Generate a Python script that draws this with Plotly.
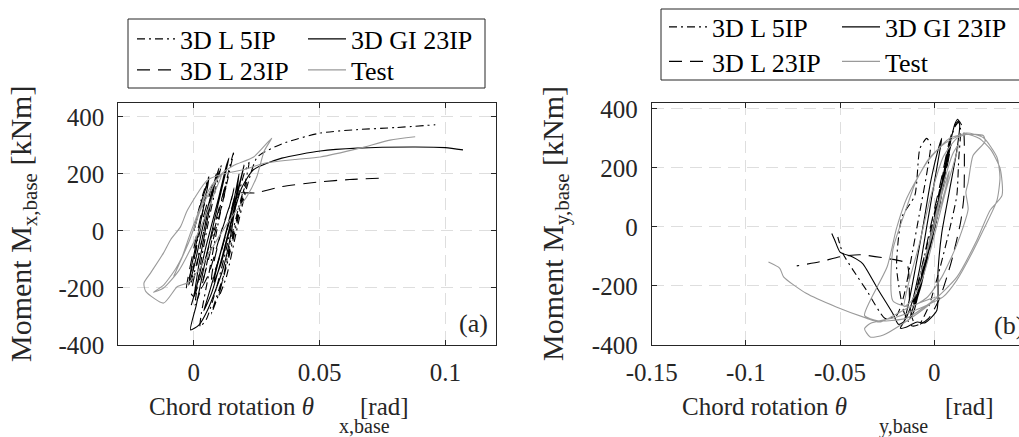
import plotly.graph_objects as go

# ---- panel (a): base moment about x vs chord rotation about x ----
a_l5ip = [(0, 0), (0.003, 110), (0.006, 190), (0.0045, 110), (0.002, 0), (0.0, -120), (-0.001, -180),
          (0.001, -120), (0.004, 0), (0.008, 150), (0.011, 230), (0.009, 160), (0.006, 40), (0.003, -100),
          (0.001, -220), (0.0005, -260), (0.003, -200), (0.007, -40), (0.012, 140), (0.015, 250),
          (0.016, 280), (0.014, 200), (0.010, 40), (0.006, -150), (0.003, -290), (0.0025, -336),
          (0.005, -310), (0.009, -200), (0.013, -60), (0.017, 100), (0.020, 200), (0.022, 240),
          (0.020, 150), (0.016, 0), (0.012, -150), (0.008, -260), (0.007, -290), (0.010, -220),
          (0.014, -90), (0.018, 60), (0.021, 170), (0.019, 120), (0.015, -20), (0.012, -150),
          (0.010, -230), (0.013, -160), (0.017, 0), (0.021, 150),
          (0.0253, 259), (0.035, 305), (0.0503, 343), (0.065, 355), (0.080, 362), (0.096, 372)]
a_gi23ip = [(0, 0), (0.003, 100), (0.006, 180), (0.0045, 110), (0.002, 0), (-0.001, -130), (-0.002, -190),
            (0.0, -130), (0.004, 30), (0.008, 160), (0.010, 220), (0.008, 150), (0.005, 20), (0.002, -120),
            (0.0, -230), (-0.001, -260), (0.001, -200), (0.005, -50), (0.010, 120), (0.013, 230),
            (0.014, 255), (0.012, 180), (0.008, 30), (0.004, -130), (0.001, -260), (-0.0013, -347),
            (0.002, -330), (0.0055, -277), (0.0115, -137), (0.015, 0), (0.017, 130), (0.018, 200),
            (0.016, 110), (0.012, -30), (0.008, -160), (0.005, -250), (0.004, -280), (0.007, -220),
            (0.011, -100), (0.015, 40), (0.019, 190), (0.020, 230), (0.018, 160), (0.014, 30),
            (0.010, -100), (0.008, -180), (0.011, -110), (0.015, 30),
            (0.019, 150), (0.0238, 215), (0.035, 255), (0.0503, 280), (0.065, 290), (0.087, 294),
            (0.100, 292), (0.107, 284)]
a_l23ip = [(0, 0), (0.003, 100), (0.0055, 170), (0.004, 100), (0.001, -20), (-0.002, -150), (-0.003, -200),
           (-0.001, -140), (0.003, 20), (0.007, 150), (0.009, 200), (0.007, 130), (0.004, 0), (0.001, -130),
           (-0.001, -220), (0.0, -230), (0.003, -150), (0.007, -20), (0.011, 110), (0.013, 170),
           (0.012, 120), (0.008, -20), (0.005, -130), (0.003, -200), (0.006, -150), (0.010, -30),
           (0.014, 80), (0.016, 150), (0.015, 110), (0.011, 0), (0.008, -110), (0.007, -170),
           (0.010, -100), (0.014, 30), (0.017, 130), (0.0245, 133), (0.035, 155), (0.0503, 172),
           (0.062, 180), (0.0748, 185)]
a_test = [(0, 0), (0.002, 60), (0.004, 120), (0.002, 60), (-0.002, -40), (-0.006, -120), (-0.008, -160),
          (-0.005, -100), (-0.001, 0), (0.004, 110), (0.008, 170), (0.011, 195), (0.009, 150), (0.005, 60),
          (0.0, -40), (-0.006, -140), (-0.012, -200), (-0.016, -215), (-0.012, -190), (-0.007, -130),
          (-0.002, -40), (0.003, 80), (0.0106, 196), (0.016, 230), (0.0238, 259), (0.031, 325),
          (0.028, 280), (0.025, 189), (0.021, 119), (0.016, 60), (0.010, -20), (0.004, -110),
          (-0.002, -180), (-0.0065, -195), (-0.012, -253), (-0.0191, -212), (-0.0198, -183),
          (-0.0172, -148), (-0.012, -77), (-0.0092, -31), (-0.0053, 14), (-0.0025, 73), (0.0054, 178),
          (0.012, 200), (0.020, 215), (0.028, 237), (0.040, 250), (0.0503, 259), (0.066, 290),
          (0.078, 318), (0.088, 330)]

# ---- panel (b): base moment about y vs chord rotation about y ----
b_l5ip = [(0, 0), (0.003, 100), (0.005, 170), (0.003, 90), (0.0, -10), (-0.005, -120), (-0.007, -170),
          (-0.004, -100), (0.0, 30), (0.005, 170), (0.008, 260), (0.006, 180), (0.001, 30), (-0.005, -130),
          (-0.010, -240), (-0.012, -270), (-0.009, -200), (-0.003, -40), (0.003, 130), (0.008, 280),
          (0.011, 340), (0.013, 355), (0.014, 330), (0.013, 230), (0.012, 107), (0.0083, -4),
          (0.003, -140), (-0.003, -270), (-0.008, -330), (-0.012, -335), (-0.016, -290), (-0.020, -135),
          (-0.0172, 33), (-0.0103, 107), (-0.0076, 266), (-0.004, 300), (-0.002, 280), (-0.004, 180),
          (-0.008, 40), (-0.012, -100), (-0.016, -230), (-0.020, -300), (-0.026, -310), (-0.036, -214),
          (-0.043, -147), (-0.0485, -90), (-0.0512, -34)]
b_gi23ip = [(0, 0), (0.003, 90), (0.005, 160), (0.003, 80), (0.0, -10), (-0.004, -110), (-0.006, -160),
            (-0.004, -100), (0.0, 20), (0.004, 140), (0.007, 230), (0.005, 160), (0.001, 30), (-0.004, -110),
            (-0.008, -210), (-0.010, -260), (-0.007, -200), (-0.002, -50), (0.003, 110), (0.007, 250),
            (0.009, 300), (0.007, 230), (0.002, 80), (-0.004, -100), (-0.010, -250), (-0.013, -310),
            (-0.011, -290), (-0.006, -160), (0.0, 20), (0.005, 180), (0.009, 300), (0.011, 350),
            (0.0125, 365), (0.0135, 345), (0.012, 260), (0.008, 120), (0.004, -20), (0.002, -150),
            (0.0014, -282), (-0.005, -325), (-0.009, -322), (-0.012, -330), (-0.015, -340), (-0.018, -343),
            (-0.016, -320), (-0.013, -240), (-0.010, -140), (-0.006, 0), (-0.002, 150), (0.002, 260),
            (0.004, 300), (0.003, 260), (0.0, 150), (-0.004, 0), (-0.008, -150), (-0.012, -260),
            (-0.016, -320), (-0.019, -330), (-0.022, -293), (-0.030, -210), (-0.038, -124),
            (-0.0433, -102), (-0.050, -85), (-0.0528, -45), (-0.0544, -22)]
b_l23ip = [(0, 0), (0.003, 100), (0.005, 160), (0.003, 80), (-0.001, -30), (-0.005, -130), (-0.007, -170),
           (-0.004, -90), (0.001, 60), (0.006, 200), (0.009, 280), (0.007, 210), (0.002, 50), (-0.004, -120),
           (-0.009, -230), (-0.011, -260), (-0.008, -180), (-0.002, 0), (0.004, 170), (0.008, 290),
           (0.011, 345), (0.013, 360), (0.0155, 330), (0.016, 220), (0.0157, 100), (0.014, 16),
           (0.009, -120), (0.003, -240), (-0.003, -310), (-0.008, -330), (-0.011, -320), (-0.013, -260),
           (-0.0146, -124), (-0.025, -107), (-0.0395, -94), (-0.050, -101), (-0.0607, -118), (-0.073, -132)]
b_test = [(0, 0), (0.004, 110), (0.008, 190), (0.006, 130), (0.001, 20), (-0.004, -90), (-0.008, -170),
          (-0.005, -110), (0.0, 20), (0.005, 150), (0.010, 250), (0.013, 280), (0.011, 230), (0.006, 120),
          (0.0, -30), (-0.006, -170), (-0.012, -250), (-0.016, -270), (-0.014, -200), (-0.008, -60),
          (-0.002, 100), (0.005, 240), (0.012, 300), (0.017, 313), (0.026, 310), (0.027, 290),
          (0.0206, 242), (0.018, 150), (0.0168, 117), (0.018, 60), (0.012, -60), (0.004, -170),
          (-0.004, -240), (-0.013, -271), (-0.022, -250), (-0.022, -79), (-0.0146, 67), (-0.010, 150),
          (-0.003, 230), (0.006, 285), (0.017, 318), (0.026, 303), (0.0333, 236), (0.0349, 168),
          (0.0333, 90), (0.026, -11), (0.019, -101), (0.012, -180), (0.0047, -237), (-0.006, -271),
          (-0.020, -305), (-0.034, -327), (-0.037, -345), (-0.034, -373), (-0.027, -366), (-0.0166, -327),
          (-0.0023, -261), (0.012, -170), (0.0226, -45), (0.0296, 56), (0.036, 107), (0.035, 198),
          (0.030, 262), (0.024, 300), (0.017, 315), (0.008, 300), (-0.0039, 219), (-0.0146, 97),
          (-0.020, -4), (-0.025, -135), (-0.034, -249), (-0.037, -300), (-0.030, -318), (-0.0146, -309),
          (0.0014, -237), (-0.013, -271), (-0.029, -322), (-0.036, -309), (-0.052, -271), (-0.068, -225),
          (-0.080, -169), (-0.082, -140), (-0.088, -119)]

series_names = ["3D L 5IP", "3D GI 23IP", "3D L 23IP", "Test"]
x_ticks_a = [0, 0.05, 0.1]
x_ticks_b = [-0.15, -0.1, -0.05, 0]
y_ticks = [-400, -200, 0, 200, 400]

W, H = 1019, 437
FONT = "Liberation Serif, Tinos, Times New Roman, DejaVu Serif, serif"
INK = "#262626"

styles = {
    "3D L 5IP": dict(color="black", dash="8px,4px,2px,4px"),
    "3D GI 23IP": dict(color="black", dash="solid"),
    "3D L 23IP": dict(color="black", dash="13px,8px"),
    "Test": dict(color="#9a9a9a", dash="solid"),
}


def px(x):
    return x / W


def py(y):
    return 1 - y / H


fig = go.Figure()

panels = [
    ("x", "y", [a_l5ip, a_gi23ip, a_l23ip, a_test], ["legend", "legend", "legend2", "legend2"]),
    ("x2", "y2", [b_l5ip, b_gi23ip, b_l23ip, b_test], ["legend3", "legend3", "legend4", "legend4"]),
]
for xa, ya, data, legs in panels:
    for name, pts, leg in zip(series_names, data, legs):
        xs = [p[0] for p in pts]
        ys = [p[1] for p in pts]
        st = styles[name]
        fig.add_trace(go.Scatter(
            x=xs, y=ys, mode="lines", name=name, xaxis=xa, yaxis=ya, legend=leg,
            line=dict(color=st["color"], dash=st["dash"], width=1.1, shape="spline", smoothing=0.6),
            hoverinfo="skip",
        ))

axis_common = dict(
    showline=True, linecolor=INK, linewidth=1, mirror="ticks",
    ticks="inside", ticklen=5, tickcolor=INK,
    showgrid=True, gridcolor="#dedede", griddash="12px,7px", gridwidth=1,
    zeroline=False, tickfont=dict(family=FONT, size=25, color=INK),
)

yb = 345
fig.update_layout(
    width=W, height=H,
    font=dict(family=FONT),
    margin=dict(l=0, r=0, t=0, b=0, autoexpand=False),
    paper_bgcolor="white", plot_bgcolor="white",
    xaxis=dict(axis_common, domain=[px(118.3), px(495.7)], range=[-0.03, 0.12],
               tickvals=x_ticks_a, ticktext=["0", "0.05", "0.1"], anchor="y", ticklabelstandoff=5),
    yaxis=dict(axis_common, domain=[py(yb), py(102.5)], range=[-400, 450],
               tickvals=y_ticks, ticktext=[str(v) for v in y_ticks], anchor="x", ticklabelstandoff=8),
    xaxis2=dict(axis_common, domain=[px(651.7), 1.0], range=[-0.15, 0.045],
                tickvals=x_ticks_b, ticktext=["-0.15", "-0.1", "-0.05", "0"], anchor="y2",
                ticklabelstandoff=5),
    yaxis2=dict(axis_common, domain=[py(yb), py(103)], range=[-400, 420], mirror=False,
                tickvals=y_ticks, ticktext=[str(v) for v in y_ticks], anchor="x2", ticklabelstandoff=8),
    showlegend=True,
)

leg_common = dict(orientation="h", xanchor="left", yanchor="middle", bgcolor="rgba(0,0,0,0)",
                  borderwidth=0, font=dict(family=FONT, size=26, color="black"),
                  itemwidth=38, entrywidthmode="pixels", itemclick=False, itemdoubleclick=False)
fig.update_layout(
    legend=dict(leg_common, x=px(132), y=py(39), entrywidth=118),
    legend2=dict(leg_common, x=px(132), y=py(70), entrywidth=118),
    legend3=dict(leg_common, x=px(664), y=py(27), entrywidth=120),
    legend4=dict(leg_common, x=px(664), y=py(61.5), entrywidth=120),
)

# legend frames
for x0, x1, y0, y1 in [(128, 485, 19, 88), (661, 1030, 9, 80)]:
    fig.add_shape(type="rect", xref="paper", yref="paper", x0=px(x0), x1=px(x1), y0=py(y1), y1=py(y0),
                  line=dict(color=INK, width=1), fillcolor="white", layer="below")

txt = dict(family=FONT, color=INK)
ann = [
    dict(text="(a)", x=px(473), y=py(323), xanchor="center", yanchor="middle", font=dict(txt, size=26)),
    dict(text="(b)", x=px(992), y=py(325), xanchor="left", yanchor="middle", font=dict(txt, size=26)),
    dict(text="Moment M<sub>x,base</sub> [kNm]", x=px(23), y=py(224), textangle=-90,
         xanchor="center", yanchor="middle", font=dict(txt, size=30)),
    dict(text="Moment M<sub>y,base</sub> [kNm]", x=px(555), y=py(224), textangle=-90,
         xanchor="center", yanchor="middle", font=dict(txt, size=30)),
    dict(text="Chord rotation <i>θ</i>", x=px(147), y=py(406), xanchor="left", yanchor="middle",
         font=dict(txt, size=25)),
    dict(text="x,base", x=px(337), y=py(426), xanchor="left", yanchor="middle", font=dict(txt, size=20)),
    dict(text="[rad]", x=px(358), y=py(406), xanchor="left", yanchor="middle", font=dict(txt, size=25)),
    dict(text="Chord rotation <i>θ</i>", x=px(680), y=py(406), xanchor="left", yanchor="middle",
         font=dict(txt, size=25)),
    dict(text="y,base", x=px(877), y=py(426), xanchor="left", yanchor="middle", font=dict(txt, size=20)),
    dict(text="[rad]", x=px(943), y=py(406), xanchor="left", yanchor="middle", font=dict(txt, size=25)),
]
for a in ann:
    a.update(xref="paper", yref="paper", showarrow=False)
    fig.add_annotation(**a)

fig.write_html("out.html")
